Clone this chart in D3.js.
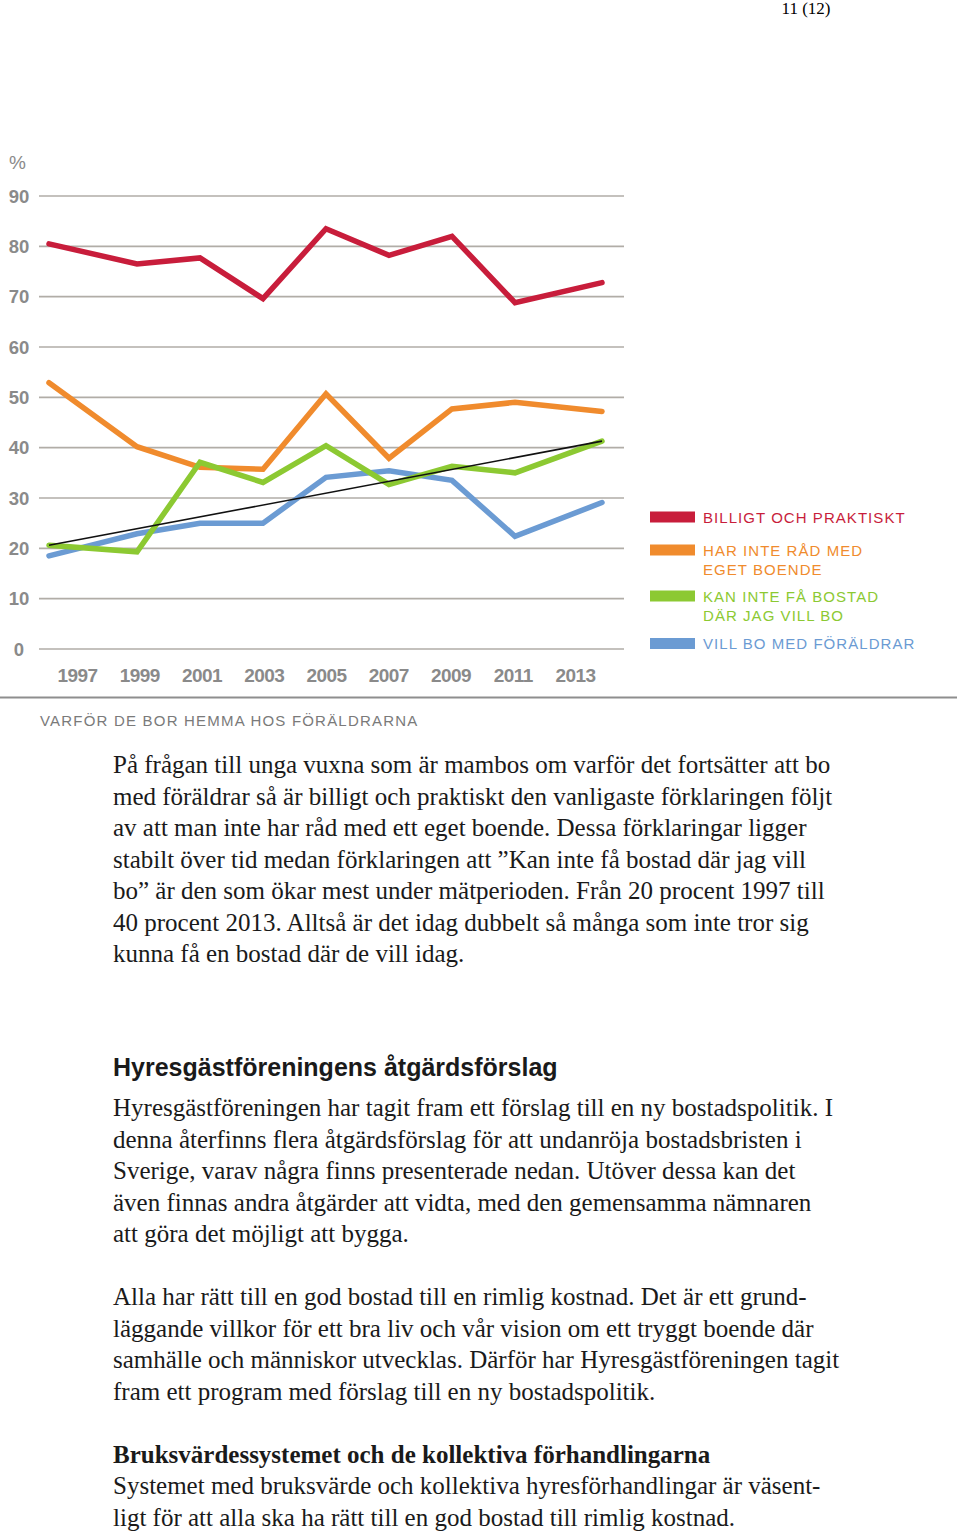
<!DOCTYPE html>
<html>
<head>
<meta charset="utf-8">
<script src="https://cdn.jsdelivr.net/npm/d3@7"></script>
<style>
  body { margin: 0; background: #fff; }
  svg { display: block; }
</style>
</head>
<body>
<svg width="960" height="1532"></svg>
<script>
//data
const years = [1997, 1999, 2001, 2003, 2005, 2007, 2009, 2011, 2013];
const yTicks = [0, 10, 20, 30, 40, 50, 60, 70, 80, 90];

const billigt = [80.5, 76.5, 77.7, 69.6, 83.5, 78.2, 82.0, 68.8, 72.8];
const harInteRad = [52.9, 40.2, 36.1, 35.7, 50.7, 37.9, 47.7, 49.0, 47.2];
const kanInteFa = [20.6, 19.3, 37.1, 33.1, 40.4, 32.7, 36.3, 35.0, 41.3];
const villBo = [18.5, 22.9, 25.0, 25.0, 34.1, 35.4, 33.5, 22.4, 29.1];

// trend line for "kan inte få bostad", first and last year
const trendYears = [1997, 2013];
const trendValues = [20.6, 41.3];

const seriesNames = ['BILLIGT OCH PRAKTISKT', 'HAR INTE RÅD MED|EGET BOENDE', 'KAN INTE FÅ BOSTAD|DÄR JAG VILL BO', 'VILL BO MED FÖRÄLDRAR'];
const seriesColors = ['#c81d3b', '#f08b2d', '#8cc932', '#6b9bd3'];

const para1 = [
  'På frågan till unga vuxna som är mambos om varför det fortsätter att bo',
  'med föräldrar så är billigt och praktiskt den vanligaste förklaringen följt',
  'av att man inte har råd med ett eget boende. Dessa förklaringar ligger',
  'stabilt över tid medan förklaringen att ”Kan inte få bostad där jag vill',
  'bo” är den som ökar mest under mätperioden. Från 20 procent 1997 till',
  '40 procent 2013. Alltså är det idag dubbelt så många som inte tror sig',
  'kunna få en bostad där de vill idag.'
];
const para2 = [
  'Hyresgästföreningen har tagit fram ett förslag till en ny bostadspolitik. I',
  'denna återfinns flera åtgärdsförslag för att undanröja bostadsbristen i',
  'Sverige, varav några finns presenterade nedan. Utöver dessa kan det',
  'även finnas andra åtgärder att vidta, med den gemensamma nämnaren',
  'att göra det möjligt att bygga.'
];
const para3 = [
  'Alla har rätt till en god bostad till en rimlig kostnad. Det är ett grund-',
  'läggande villkor för ett bra liv och vår vision om ett tryggt boende där',
  'samhälle och människor utvecklas. Därför har Hyresgästföreningen tagit',
  'fram ett program med förslag till en ny bostadspolitik.'
];
const para4 = [
  'Systemet med bruksvärde och kollektiva hyresförhandlingar är väsent-',
  'ligt för att alla ska ha rätt till en god bostad till rimlig kostnad.'
];

//set up
const svg = d3.select('svg');
const sans = '"Liberation Sans", Arial, sans-serif';
const serif = '"Liberation Serif", "Times New Roman", serif';

// scales: labels evenly spaced, the line ends pulled out to the sides
const xLabel = d3.scalePoint().domain(years).range([77, 575]);
const x = d3.scaleLinear().domain([1997, 1999, 2011, 2013]).range([49, 137, 515, 602]);
const y = d3.scaleLinear().domain([0, 90]).range([649, 196]);

// page number
svg.append('text')
  .attr('x', 806).attr('y', 14)
  .attr('text-anchor', 'middle')
  .style('font-family', serif).style('font-size', '17px')
  .text('11 (12)');

// grid
const grid = svg.append('g');
grid.selectAll('line')
  .data(yTicks)
  .join('line')
  .attr('x1', 39).attr('x2', 624)
  .attr('y1', d => y(d)).attr('y2', d => y(d))
  .attr('stroke', '#b1ada7')
  .attr('stroke-width', 1.6);

grid.selectAll('text')
  .data(yTicks)
  .join('text')
  .attr('x', 19)
  .attr('y', d => y(d) + 6.5)
  .attr('text-anchor', 'middle')
  .style('font-family', sans).style('font-size', '18.5px').style('font-weight', 'bold')
  .style('fill', '#8a8a8a')
  .text(d => d);

svg.append('text')
  .attr('x', 9).attr('y', 169)
  .style('font-family', sans).style('font-size', '19px')
  .style('fill', '#8a8a8a')
  .text('%');

// x axis labels
const xAxis = svg.append('g')
  .attr('transform', 'translate(0,667)')
  .call(d3.axisBottom(xLabel).tickSize(0).tickPadding(0));
xAxis.select('.domain').remove();
xAxis.selectAll('text')
  .attr('dy', '0')
  .attr('y', 15)
  .style('font-family', sans).style('font-size', '19px').style('font-weight', 'bold')
  .style('letter-spacing', '-0.6px')
  .style('fill', '#8a8a8a');

// lines
const line = d3.line()
  .x((d, i) => x(years[i]))
  .y(d => y(d));

const allSeries = [billigt, harInteRad, villBo, kanInteFa];
const drawColors = [seriesColors[0], seriesColors[1], seriesColors[3], seriesColors[2]];

svg.append('g')
  .selectAll('path')
  .data(allSeries)
  .join('path')
  .attr('d', d => line(d))
  .attr('fill', 'none')
  .attr('stroke', (d, i) => drawColors[i])
  .attr('stroke-width', 5.5)
  .attr('stroke-linejoin', 'miter')
  .attr('stroke-linecap', 'round');

svg.append('path')
  .attr('d', d3.line().x((d, i) => x(trendYears[i])).y(d => y(d))(trendValues))
  .attr('fill', 'none')
  .attr('stroke', '#111')
  .attr('stroke-width', 1.6);

// legend
const legendTop = [511.5, 544.5, 590.5, 638];
const legend = svg.append('g')
  .selectAll('g')
  .data(seriesNames)
  .join('g')
  .attr('transform', (d, i) => `translate(650,${legendTop[i]})`);

legend.append('rect')
  .attr('width', 45).attr('height', 11)
  .attr('fill', (d, i) => seriesColors[i]);

legend.append('text')
  .style('font-family', sans).style('font-size', '15px')
  .style('letter-spacing', '1.05px')
  .style('fill', (d, i) => seriesColors[i])
  .selectAll('tspan')
  .data(d => d.split('|'))
  .join('tspan')
  .attr('x', 53)
  .attr('y', (d, i) => 11 + i * 19)
  .text(d => d);

// bottom rule and caption
svg.append('line')
  .attr('x1', 0).attr('x2', 957)
  .attr('y1', 697.5).attr('y2', 697.5)
  .attr('stroke', '#8e8e8e')
  .attr('stroke-width', 2.2);

svg.append('text')
  .attr('x', 40).attr('y', 726)
  .style('font-family', sans).style('font-size', '15px')
  .style('letter-spacing', '1.2px')
  .style('fill', '#7a7a7a')
  .text('VARFÖR DE BOR HEMMA HOS FÖRÄLDRARNA');

// text blocks
function block(lines, top, step, font, size, weight) {
  svg.append('g')
    .selectAll('text')
    .data(lines)
    .join('text')
    .attr('x', 113)
    .attr('y', (d, i) => top + i * step)
    .style('font-family', font)
    .style('font-size', size)
    .style('font-weight', weight)
    .style('fill', '#1a1a1a')
    .text(d => d);
}

block(para1, 773, 31.5, serif, '25px', 'normal');
block(['Hyresgästföreningens åtgärdsförslag'], 1076, 0, sans, '25px', 'bold');
block(para2, 1116, 31.5, serif, '25px', 'normal');
block(para3, 1305, 31.5, serif, '25px', 'normal');
block(['Bruksvärdessystemet och de kollektiva förhandlingarna'], 1463, 0, serif, '25px', 'bold');
block(para4, 1494, 31.5, serif, '25px', 'normal');
</script>
</body>
</html>
